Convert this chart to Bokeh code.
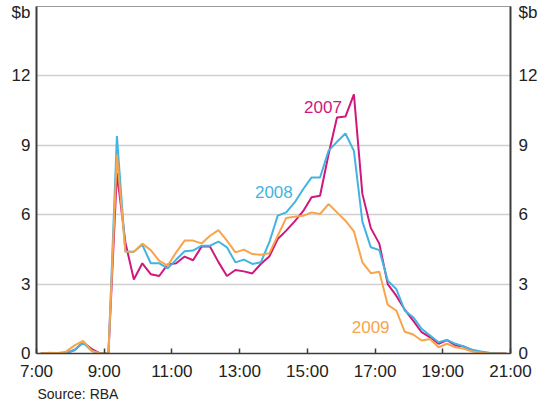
import numpy as np
from bokeh.plotting import figure
from bokeh.models import Range1d, LinearAxis, FixedTicker, Label, Title
from bokeh.embed import file_html
from bokeh.resources import INLINE

# Values in $b per 15-minute interval, 7:00 to 21:00 (interval mid-points)
v2007 = [0, 0, 0, 0.02, 0.15, 0.48, 0.2, 0, 0, 7.8,
         4.8, 3.2, 3.9, 3.43, 3.35, 3.85, 3.9, 4.19, 4.03, 4.62,
         4.62, 3.95, 3.35, 3.61, 3.55, 3.46, 3.87, 4.19, 4.95, 5.31,
         5.71, 6.15, 6.75, 6.82, 8.6, 10.2, 10.24, 11.2, 6.9, 5.42,
         4.75, 3.0, 2.5, 1.9, 1.42, 0.92, 0.7, 0.42, 0.58, 0.35,
         0.3, 0.13, 0.04, 0, 0, 0]
v2008 = [0, 0, 0, 0.02, 0.15, 0.46, 0.12, 0, 0, 9.4,
         4.4, 4.4, 4.7, 3.9, 3.9, 3.68, 4.06, 4.42, 4.45, 4.66,
         4.66, 4.84, 4.59, 3.94, 4.06, 3.87, 3.94, 4.8, 5.96, 6.1,
         6.53, 7.1, 7.61, 7.61, 8.76, 9.15, 9.51, 8.76, 5.7, 4.59,
         4.47, 3.15, 2.79, 1.86, 1.57, 1.07, 0.78, 0.49, 0.59, 0.42,
         0.3, 0.16, 0.09, 0.03, 0, 0]
v2009 = [0, 0.03, 0.02, 0.08, 0.35, 0.55, 0.12, 0, 0, 8.6,
         4.4, 4.4, 4.75, 4.47, 4.0, 3.8, 4.37, 4.88, 4.88, 4.76,
         5.09, 5.33, 4.88, 4.37, 4.49, 4.3, 4.27, 4.33, 5.09, 5.86,
         5.91, 5.95, 6.1, 6.03, 6.46, 6.1, 5.74, 5.28, 3.94, 3.47,
         3.53, 2.1, 1.86, 0.94, 0.82, 0.56, 0.63, 0.27, 0.42, 0.27,
         0.2, 0.09, 0.03, 0, 0, 0]

x_ticks = [7, 9, 11, 13, 15, 17, 19, 21]
x_tick_labels = ["7:00", "9:00", "11:00", "13:00", "15:00", "17:00", "19:00", "21:00"]
y_ticks = [0, 3, 6, 9, 12]
unit_label = "$b"
unit_pos = 14.72

# interval mid-points in hours
times = 7 + 0.125 + 0.25 * np.arange(len(v2007))

c2007 = "#D0177E"
c2008 = "#42B4E2"
c2009 = "#F8A44C"
FONT = "Liberation Sans"

p = figure(width=548, height=404, output_backend="svg", toolbar_location=None,
           x_range=Range1d(7, 21), y_range=Range1d(0, 15),
           min_border_left=36, min_border_right=38, min_border_top=6,
           min_border_bottom=51, x_axis_location=None, y_axis_location=None)
p.background_fill_color = "white"
p.border_fill_color = "white"
p.outline_line_color = "#9a9a9a"
p.outline_line_width = 1

p.xgrid.visible = False
p.ygrid.ticker = FixedTicker(ticks=[3, 6, 9, 12])
p.ygrid.grid_line_color = "#cfcfcf"
p.ygrid.grid_line_width = 1.5

xaxis = LinearAxis(ticker=FixedTicker(ticks=x_ticks),
                   major_label_overrides={t: l for t, l in zip(x_ticks, x_tick_labels)})
xaxis.axis_line_color = "#3c3c3c"
xaxis.axis_line_width = 1.5
xaxis.major_tick_in = 5
xaxis.major_tick_out = 0
xaxis.major_tick_line_color = "#3c3c3c"
xaxis.major_tick_line_width = 1.5
xaxis.minor_tick_line_color = None
xaxis.major_label_standoff = 8
xaxis.major_label_text_font = FONT
xaxis.major_label_text_font_size = "17px"
xaxis.major_label_text_color = "#222222"
p.add_layout(xaxis, "below")

src = Title(text="Source: RBA", align="left", text_font=FONT, text_font_size="14px",
            text_font_style="normal", text_color="#222222", standoff=0, offset=1)
p.add_layout(src, "below")

for side, standoff in (("left", 6), ("right", 8)):
    ax = LinearAxis(ticker=FixedTicker(ticks=y_ticks + [unit_pos]),
                    major_label_overrides={unit_pos: unit_label})
    ax.axis_line_color = "#3c3c3c"
    ax.axis_line_width = 2
    ax.major_tick_in = 0
    ax.major_tick_out = 0
    ax.minor_tick_line_color = None
    ax.major_label_standoff = standoff
    ax.major_label_text_font = FONT
    ax.major_label_text_font_size = "17px"
    ax.major_label_text_color = "#222222"
    p.add_layout(ax, side)

p.line(times, v2007, line_color=c2007, line_width=2)
p.line(times, v2008, line_color=c2008, line_width=2)
p.line(times, v2009, line_color=c2009, line_width=2)

for txt, x, y, col in (("2007", 15.46, 10.65, c2007),
                       ("2008", 14.01, 6.97, c2008),
                       ("2009", 16.87, 1.14, c2009)):
    p.add_layout(Label(x=x, y=y, text=txt, text_color=col, text_font=FONT,
                       text_font_size="17px", text_align="center",
                       text_baseline="alphabetic"))

open("out.html", "w").write(file_html(p, INLINE))
